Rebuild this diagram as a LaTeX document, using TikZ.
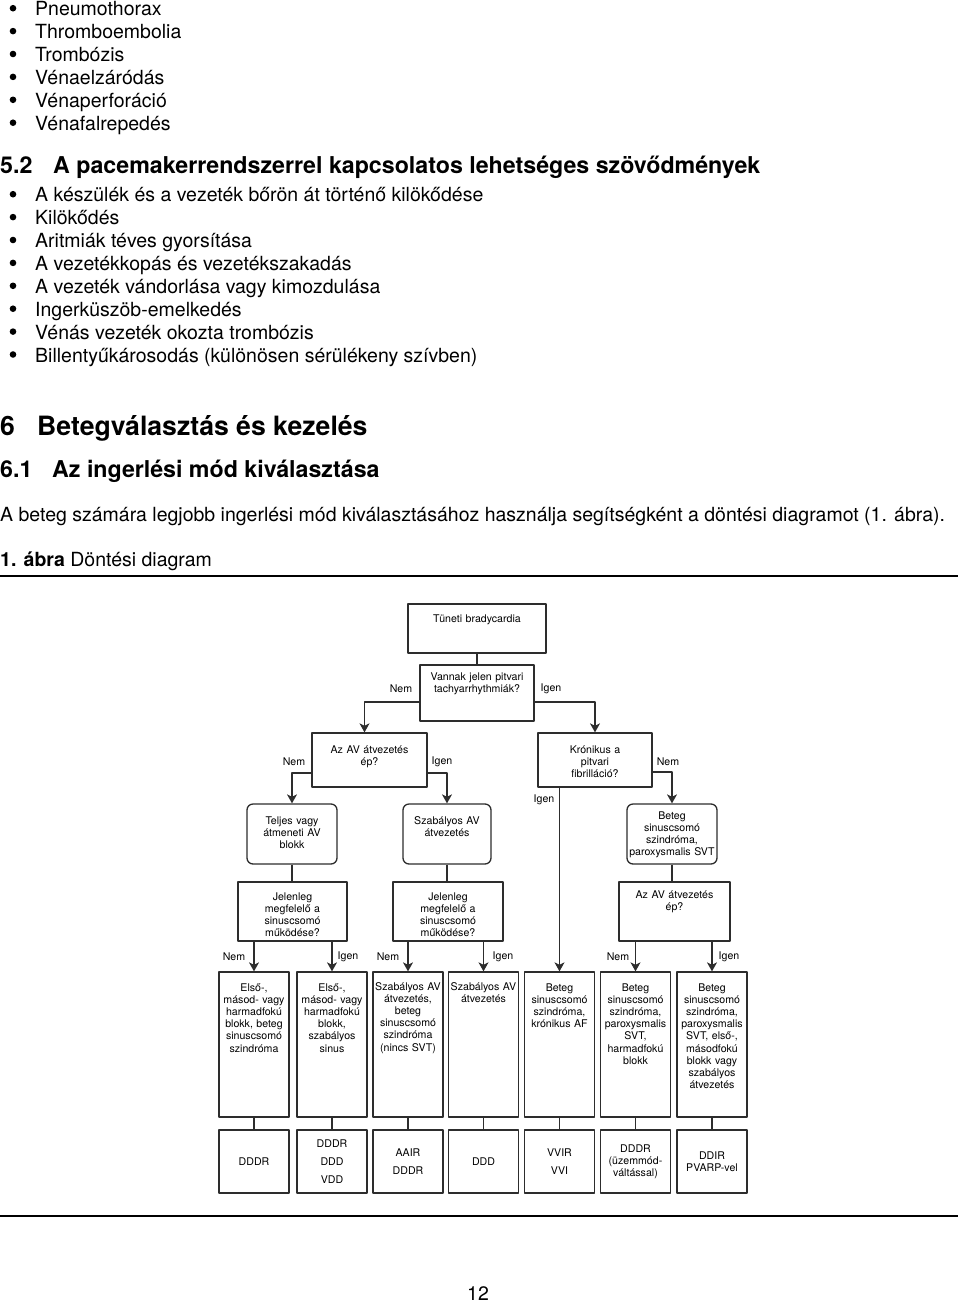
\documentclass[tikz,border=0pt]{standalone}
\usepackage{fontspec}
\setmainfont{TeX Gyre Heros}
\usetikzlibrary{arrows.meta}

\definecolor{linegray}{RGB}{45,45,45}

\newcommand{\bodyfont}{\fontsize{19.5}{23}\selectfont}
\newcommand{\headfont}{\fontsize{23.2}{27}\selectfont\bfseries}
\newcommand{\bigheadfont}{\fontsize{26.6}{31}\selectfont\bfseries}
\newcommand{\chartfont}{\fontsize{10.6}{12.2}\selectfont}

\tikzset{
  txt/.style={anchor=base west, inner sep=0pt, font=\bodyfont},
  bul/.style={circle, fill=black, inner sep=0pt, minimum size=6.6pt},
  chartbox/.style={draw=linegray, line width=1.3pt, inner sep=0pt, font=\chartfont, align=center},
  tb/.style n args={3}{text width=#1pt, text height=#2pt, text depth=#3pt},
  roundbox/.style={chartbox, rounded corners=6pt},
  modebox/.style={chartbox, text width=70pt, minimum height=63pt},
  yesno/.style={font=\chartfont, inner sep=0pt},
  flow/.style={draw=linegray, line width=1.3pt, -{Stealth[length=9pt,width=10pt,inset=2.5pt]}},
  link/.style={draw=linegray, line width=1.3pt}
}

\begin{document}
\begin{tikzpicture}[x=1pt,y=-1pt,line join=round]
\useasboundingbox (0,0) rectangle (960,1302);

% first list
\foreach \t [count=\i from 0] in {Pneumothorax,Thromboembolia,Trombózis,Vénaelzáródás,Vénaperforáció,Vénafalrepedés}{
  \node[bul] (da\i) at (13,{8.2+22.9*\i}) {};
  \node[txt] (ta\i) at (35,{15.7+22.9*\i}) {\t};
}

\node[txt,font=\headfont] (h52n) at (0,173.5) {5.2};
\node[txt,font=\headfont] (h52) at (53,173.5) {A pacemakerrendszerrel kapcsolatos lehetséges szövődmények};

% second list
\foreach \t [count=\i from 0] in {A készülék és a vezeték bőrön át történő kilökődése,Kilökődés,Aritmiák téves gyorsítása,A vezetékkopás és vezetékszakadás,A vezeték vándorlása vagy kimozdulása,Ingerküszöb-emelkedés,Vénás vezeték okozta trombózis,Billentyűkárosodás (különösen sérülékeny szívben)}{
  \node[bul] (db\i) at (13,{194.2+22.9*\i}) {};
  \node[txt] (tb\i) at (35,{201.7+22.9*\i}) {\t};
}

\node[txt,font=\bigheadfont] (h6n) at (0,435) {6};
\node[txt,font=\bigheadfont] (h6) at (37,435) {Betegválasztás és kezelés};
\node[txt,font=\headfont] (h61n) at (0,477) {6.1};
\node[txt,font=\headfont] (h61) at (52,477) {Az ingerlési mód kiválasztása};
\node[txt] (par) at (0,521) {A beteg számára legjobb ingerlési mód kiválasztásához használja segítségként a döntési diagramot (1. ábra).};
\node[txt] (cap) at (0,566) {\textbf{1. ábra} Döntési diagram};
\draw[line width=1.6pt] (0,576) -- (958,576);

% decision chart
\node[chartbox,tb={138}{18}{31}] (t0) at (477,628.5) {Tüneti bradycardia};
\node[chartbox,tb={114}{15}{41}] (q1) at (477,693) {Vannak jelen pitvari\\tachyarrhythmiák?};
\node[chartbox,tb={115}{20}{34}] (q2) at (369.5,760) {Az AV átvezetés\\ép?};
\node[chartbox,tb={114}{20}{34}] (q3) at (595,760) {Krónikus a\\pitvari\\fibrilláció?};

\node[roundbox,tb={90}{20}{40}] (r1) at (292,834) {Teljes vagy\\átmeneti AV\\blokk};
\node[roundbox,tb={88}{20}{40}] (r2) at (447,834) {Szabályos AV\\átvezetés};
\node[roundbox,tb={90}{15}{45}] (r3) at (672,834) {Beteg\\sinuscsomó\\szindróma,\\paroxysmalis SVT};

\node[chartbox,tb={109}{18}{41}] (s1) at (292.5,911.5) {Jelenleg\\megfelelő a\\sinuscsomó\\működése?};
\node[chartbox,tb={110}{18}{41}] (s2) at (448,911.5) {Jelenleg\\megfelelő a\\sinuscsomó\\működése?};
\node[chartbox,tb={111}{16}{43}] (s3) at (674.5,911.5) {Az AV átvezetés\\ép?};

\node[chartbox,tb={70}{19}{126}] (b1) at (254,1044.5) {Első-,\\másod- vagy\\harmadfokú\\blokk, beteg\\sinuscsomó\\szindróma};
\node[chartbox,tb={70}{19}{126}] (b2) at (332,1044.5) {Első-,\\másod- vagy\\harmadfokú\\blokk,\\szabályos\\sinus};
\node[chartbox,tb={70}{18}{127}] (b3) at (408,1044.5) {Szabályos AV\\átvezetés,\\beteg\\sinuscsomó\\szindróma\\(nincs SVT)};
\node[chartbox,tb={70}{18}{127}] (b4) at (483.5,1044.5) {Szabályos AV\\átvezetés};
\node[chartbox,tb={70}{19}{126}] (b5) at (559.5,1044.5) {Beteg\\sinuscsomó\\szindróma,\\krónikus AF};
\node[chartbox,tb={70}{19}{126}] (b6) at (635.5,1044.5) {Beteg\\sinuscsomó\\szindróma,\\paroxysmalis\\SVT,\\harmadfokú\\blokk};
\node[chartbox,tb={70}{19}{126}] (b7) at (712,1044.5) {Beteg\\sinuscsomó\\szindróma,\\paroxysmalis\\SVT, első-,\\másodfokú\\blokk vagy\\szabályos\\átvezetés};

\node[modebox] (c1) at (254,1161.5) {DDDR};
\node[modebox] (c2) at (332,1161.5) {DDDR\\[5.8pt]DDD\\[5.8pt]VDD};
\node[modebox] (c3) at (408,1161.5) {AAIR\\[5.8pt]DDDR};
\node[modebox] (c4) at (483.5,1161.5) {DDD};
\node[modebox] (c5) at (559.5,1161.5) {VVIR\\[5.8pt]VVI};
\node[modebox] (c6) at (635.5,1161.5) {DDDR\\(üzemmód-\\váltással)};
\node[modebox] (c7) at (712,1161.5) {DDIR\\PVARP-vel};

% connectors
\draw[link] (t0.south) -- (q1.north);
\draw[flow] ([yshift=-9pt]q1.west) -| ([xshift=-5pt]q2.north);
\draw[flow] ([yshift=-9pt]q1.east) -| (q3.north);
\draw[flow] ([yshift=-13pt]q2.west) -| (r1.north);
\draw[flow] ([yshift=-13pt]q2.east) -| (r2.north);
\draw[flow] ([yshift=-12pt]q3.east) -| (r3.north);
\draw[flow] (b5.north |- q3.south) -- (b5.north);
\draw[link] (r1.south) -- (r1.south |- s1.north);
\draw[link] (r2.south) -- (r2.south |- s2.north);
\draw[link] (r3.south) -- (r3.south |- s3.north);
\foreach \b/\s in {b1/s1,b2/s1,b3/s2,b4/s2,b6/s3,b7/s3}
  \draw[flow] (\b.north |- \s.south) -- (\b.north);
\foreach \i in {1,...,7}
  \draw[link] (b\i.south) -- (c\i.north);

% branch labels
\node[yesno] (l1n) at (401,689) {Nem};
\node[yesno] (l1i) at (551,689) {Igen};
\node[yesno] (l2n) at (294,762) {Nem};
\node[yesno] (l2i) at (442,762) {Igen};
\node[yesno] (l3n) at (668,762) {Nem};
\node[yesno] (l3i) at (544,800) {Igen};
\node[yesno] (l4n) at (234,957) {Nem};
\node[yesno] (l4i) at (348,957) {Igen};
\node[yesno] (l5n) at (388,957) {Nem};
\node[yesno] (l5i) at (503,957) {Igen};
\node[yesno] (l6n) at (618,957) {Nem};
\node[yesno] (l6i) at (729,957) {Igen};

\draw[line width=1.2pt] (0,1216) -- (958,1216);
\node[txt,anchor=base] (pg) at (478,1300) {12};
\end{tikzpicture}
\end{document}
